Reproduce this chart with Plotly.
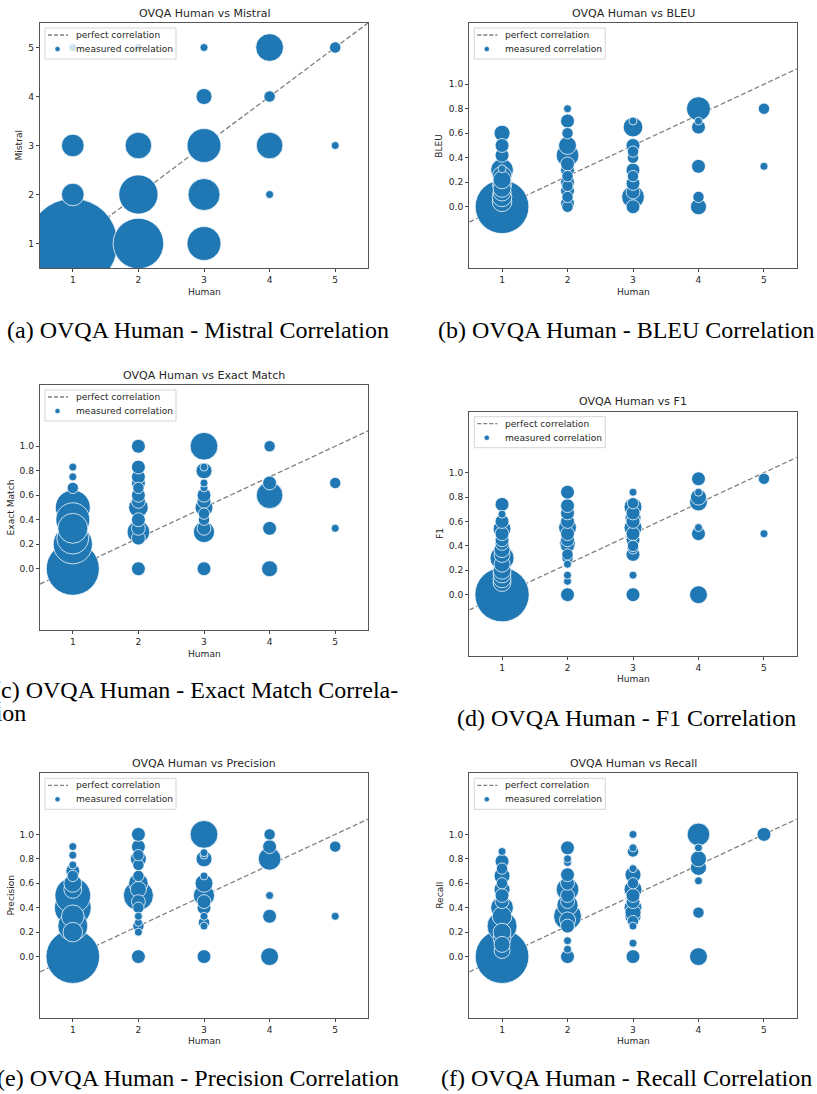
import numpy as np
import plotly.graph_objects as go

FIG_W, FIG_H = 817, 1094

# ---------------------------------------------------------------- data
human_ticks = [1, 2, 3, 4, 5]
mistral_ticks = [1, 2, 3, 4, 5]
metric_ticks = [0.0, 0.2, 0.4, 0.6, 0.8, 1.0]
metric_tick_text = ["0.0", "0.2", "0.4", "0.6", "0.8", "1.0"]

# Human score vs Mistral score, with the number of questions per pair
mistral_human = [1, 1, 1, 1, 2, 2, 2, 2, 3, 3, 3, 3, 3, 4, 4, 4, 4, 5, 5]
mistral_score = [1, 2, 3, 5, 1, 2, 3, 5, 1, 2, 3, 4, 5, 2, 3, 4, 5, 3, 5]
mistral_count = [126, 8, 8, 1, 40, 24, 11, 1, 18, 16, 18, 4, 1, 1, 11, 2, 12, 1, 2]

bleu_human = [1, 1, 1, 1, 1, 1, 1, 1, 1, 1, 1, 1, 1,
              2, 2, 2, 2, 2, 2, 2, 2, 2, 2, 2, 2, 2, 2,
              3, 3, 3, 3, 3, 3, 3, 3, 3, 3, 3,
              4, 4, 4, 4, 4, 4,
              5, 5]
bleu_score = [0.0, 0.04, 0.08, 0.12, 0.15, 0.19, 0.22, 0.25, 0.3, 0.31, 0.42, 0.5, 0.6,
              0.0, 0.03, 0.08, 0.13, 0.17, 0.2, 0.25, 0.3, 0.35, 0.42, 0.5, 0.6, 0.7, 0.8,
              0.0, 0.08, 0.12, 0.19, 0.25, 0.3, 0.4, 0.45, 0.5, 0.65, 0.7,
              0.0, 0.08, 0.33, 0.65, 0.7, 0.8,
              0.33, 0.8]
bleu_count = [45, 6, 6, 5, 5, 6, 5, 6, 8, 1, 3, 3, 4,
              2, 3, 2, 3, 2, 3, 2, 3, 3, 8, 5, 2, 3, 1,
              3, 8, 3, 3, 2, 3, 2, 2, 3, 6, 1,
              4, 2, 3, 3, 1, 9,
              1, 2]

em_human = [1, 1, 1, 1, 1, 1, 1, 1, 1,
            2, 2, 2, 2, 2, 2, 2, 2, 2, 2, 2, 2, 2,
            3, 3, 3, 3, 3, 3, 3, 3, 3, 3, 3, 3, 3,
            4, 4, 4, 4, 4,
            5, 5]
em_score = [0.0, 0.2, 0.25, 0.33, 0.4, 0.5, 0.66, 0.75, 0.83,
            0.0, 0.25, 0.3, 0.33, 0.4, 0.5, 0.55, 0.6, 0.66, 0.7, 0.75, 0.83, 1.0,
            0.0, 0.3, 0.33, 0.4, 0.45, 0.5, 0.55, 0.6, 0.66, 0.7, 0.8, 0.83, 1.0,
            0.0, 0.33, 0.6, 0.7, 1.0,
            0.33, 0.7]
em_count = [44, 24, 16, 14, 18, 19, 2, 1, 1,
            3, 3, 8, 3, 3, 6, 3, 3, 2, 3, 3, 3, 3,
            3, 7, 3, 2, 2, 5, 3, 3, 1, 1, 4, 1, 12,
            4, 3, 11, 3, 2,
            1, 2]

f1_human = [1, 1, 1, 1, 1, 1, 1, 1, 1, 1, 1, 1, 1, 1, 1, 1,
            2, 2, 2, 2, 2, 2, 2, 2, 2, 2, 2, 2, 2, 2, 2,
            3, 3, 3, 3, 3, 3, 3, 3, 3, 3, 3, 3, 3, 3,
            4, 4, 4, 4, 4, 4, 4,
            5, 5]
f1_score = [0.0, 0.1, 0.13, 0.17, 0.2, 0.25, 0.3, 0.33, 0.37, 0.42, 0.45, 0.5, 0.54, 0.6, 0.66, 0.74,
            0.0, 0.11, 0.16, 0.25, 0.3, 0.33, 0.4, 0.42, 0.45, 0.5, 0.55, 0.6, 0.67, 0.73, 0.84,
            0.0, 0.16, 0.33, 0.38, 0.4, 0.45, 0.5, 0.55, 0.6, 0.63, 0.67, 0.72, 0.75, 0.84,
            0.0, 0.5, 0.55, 0.76, 0.8, 0.84, 0.95,
            0.5, 0.95]
f1_count = [46, 5, 5, 5, 5, 4, 9, 4, 4, 3, 3, 3, 5, 3, 1, 3,
            3, 1, 1, 1, 2, 2, 3, 4, 3, 3, 5, 3, 3, 3, 3,
            3, 1, 3, 2, 2, 3, 3, 5, 3, 4, 3, 5, 2, 1,
            5, 3, 1, 5, 4, 1, 3,
            1, 2]

prec_human = [1, 1, 1, 1, 1, 1, 1, 1, 1, 1, 1, 1, 1,
              2, 2, 2, 2, 2, 2, 2, 2, 2, 2, 2, 2, 2, 2, 2, 2,
              3, 3, 3, 3, 3, 3, 3, 3, 3, 3, 3, 3, 3,
              4, 4, 4, 4, 4, 4,
              5, 5]
prec_score = [0.0, 0.2, 0.25, 0.33, 0.4, 0.5, 0.55, 0.6, 0.66, 0.7, 0.75, 0.83, 0.9,
              0.0, 0.2, 0.25, 0.28, 0.33, 0.4, 0.45, 0.5, 0.55, 0.6, 0.66, 0.75, 0.8, 0.83, 0.9, 1.0,
              0.0, 0.25, 0.28, 0.33, 0.4, 0.45, 0.5, 0.6, 0.66, 0.8, 0.83, 0.85, 1.0,
              0.0, 0.33, 0.5, 0.8, 0.9, 1.0,
              0.33, 0.9]
prec_count = [45, 6, 14, 8, 21, 20, 5, 5, 2, 3, 1, 1, 1,
              3, 1, 2, 1, 1, 2, 3, 14, 4, 6, 2, 2, 4, 2, 3, 3,
              3, 1, 2, 1, 3, 3, 7, 5, 1, 4, 1, 1, 12,
              5, 3, 1, 8, 3, 2,
              1, 2]

recall_human = [1, 1, 1, 1, 1, 1, 1, 1, 1, 1, 1, 1, 1, 1, 1, 1,
                2, 2, 2, 2, 2, 2, 2, 2, 2, 2, 2, 2, 2, 2, 2,
                3, 3, 3, 3, 3, 3, 3, 3, 3, 3, 3, 3, 3, 3, 3, 3,
                4, 4, 4, 4, 4, 4, 4,
                5]
recall_score = [0.0, 0.05, 0.1, 0.15, 0.2, 0.25, 0.33, 0.4, 0.45, 0.5, 0.55, 0.6, 0.66, 0.72, 0.78, 0.86,
                0.0, 0.06, 0.13, 0.25, 0.3, 0.33, 0.42, 0.45, 0.5, 0.55, 0.6, 0.67, 0.77, 0.8, 0.89,
                0.0, 0.11, 0.25, 0.29, 0.33, 0.36, 0.4, 0.45, 0.5, 0.55, 0.6, 0.67, 0.72, 0.86, 0.89, 1.0,
                0.0, 0.36, 0.62, 0.73, 0.8, 0.89, 1.0,
                1.0]
recall_count = [45, 4, 4, 5, 5, 14, 6, 8, 3, 3, 4, 2, 4, 2, 3, 1,
                3, 1, 1, 3, 4, 12, 7, 3, 3, 8, 3, 3, 1, 1, 3,
                3, 1, 1, 2, 4, 4, 5, 3, 3, 5, 2, 4, 1, 2, 1, 1,
                5, 2, 1, 4, 4, 1, 8,
                3]

# ---------------------------------------------------------------- styling
BLUE = "#1f77b4"
TEXT = "#262626"
SANS = "DejaVu Sans"
SERIF = "Liberation Serif"
SIZE_K = 8.0          # marker diameter (px) per sqrt(question count)


def same_scale(h):
    return np.asarray(h, dtype=float)


def unit_scale(h):
    # human grade 1..5 mapped onto a 0..1 metric
    return (np.asarray(h, dtype=float) - 1.0) / 4.0


panels = [
    dict(title="OVQA Human vs Mistral", ylabel="Mistral", ylab_off=21,
         h=mistral_human, s=mistral_score, c=mistral_count,
         yrange=[0.5, 5.5], yticks=mistral_ticks, ytext=[str(t) for t in mistral_ticks],
         ideal=same_scale, box=(40, 23, 368, 268),
         caption=[("(a) OVQA Human - Mistral Correlation", 197.5, 330, "center")]),
    dict(title="OVQA Human vs BLEU", ylabel="BLEU", ylab_off=30,
         h=bleu_human, s=bleu_score, c=bleu_count,
         yrange=[-0.5, 1.5], yticks=metric_ticks, ytext=metric_tick_text,
         ideal=unit_scale, box=(469.3, 23, 796.7, 268),
         caption=[("(b) OVQA Human - BLEU Correlation", 626.5, 330, "center")]),
    dict(title="OVQA Human vs Exact Match", ylabel="Exact Match", ylab_off=30,
         h=em_human, s=em_score, c=em_count,
         yrange=[-0.5, 1.5], yticks=metric_ticks, ytext=metric_tick_text,
         ideal=unit_scale, box=(40, 385, 368, 630),
         caption=[("(c) OVQA Human - Exact Match Correla-", -9, 690, "left"),
                  ("tion", -13, 713, "left")]),
    dict(title="OVQA Human vs F1", ylabel="F1", ylab_off=30,
         h=f1_human, s=f1_score, c=f1_count,
         yrange=[-0.5, 1.5], yticks=metric_ticks, ytext=metric_tick_text,
         ideal=unit_scale, box=(469.3, 411.7, 796.7, 655.7),
         caption=[("(d) OVQA Human - F1 Correlation", 626.5, 718, "center")]),
    dict(title="OVQA Human vs Precision", ylabel="Precision", ylab_off=30,
         h=prec_human, s=prec_score, c=prec_count,
         yrange=[-0.5, 1.5], yticks=metric_ticks, ytext=metric_tick_text,
         ideal=unit_scale, box=(40, 773.3, 368, 1017.7),
         caption=[("(e) OVQA Human - Precision Correlation", 197.5, 1078, "center")]),
    dict(title="OVQA Human vs Recall", ylabel="Recall", ylab_off=30,
         h=recall_human, s=recall_score, c=recall_count,
         yrange=[-0.5, 1.5], yticks=metric_ticks, ytext=metric_tick_text,
         ideal=unit_scale, box=(469.3, 773.3, 796.7, 1017.7),
         caption=[("(f) OVQA Human - Recall Correlation", 626.5, 1078, "center")]),
]


def fx(px):
    return px / FIG_W


def fy(py):
    return 1.0 - py / FIG_H


fig = go.Figure()
annotations = []
shapes = []
layout_axes = {}

for i, p in enumerate(panels, start=1):
    sfx = "" if i == 1 else str(i)
    xname, yname = "x" + sfx, "y" + sfx
    L, T, R, B = p["box"]

    axis_common = dict(
        showgrid=False, zeroline=False, showline=True, mirror=True,
        linecolor="#555555", linewidth=1,
        ticks="outside", ticklen=3.2, tickwidth=0.8, tickcolor="#444444",
        tickfont=dict(family=SANS, size=9.1, color=TEXT),
        fixedrange=True,
    )
    layout_axes["xaxis" + sfx] = dict(
        axis_common, domain=[fx(L), fx(R)], anchor=yname,
        range=[0.5, 5.5], tickmode="array", tickvals=human_ticks,
        ticktext=[str(t) for t in human_ticks],
    )
    layout_axes["yaxis" + sfx] = dict(
        axis_common, domain=[fy(B), fy(T)], anchor=xname,
        range=p["yrange"], tickmode="array", tickvals=p["yticks"],
        ticktext=p["ytext"],
    )

    # perfect-correlation reference across the full human axis
    xr = np.array(layout_axes["xaxis" + sfx]["range"], dtype=float)
    fig.add_trace(go.Scatter(
        x=xr, y=p["ideal"](xr), mode="lines", xaxis=xname, yaxis=yname,
        line=dict(color="#808080", width=1.3, dash="5px,2.5px"),
        showlegend=False, hoverinfo="skip",
    ))

    # measured pairs, biggest bubbles first so smaller ones sit on top
    h = np.asarray(p["h"], dtype=float)
    s = np.asarray(p["s"], dtype=float)
    c = np.asarray(p["c"], dtype=float)
    assert len(h) == len(s) == len(c)
    order = np.argsort(-c, kind="stable")
    fig.add_trace(go.Scatter(
        x=h[order], y=s[order], mode="markers", xaxis=xname, yaxis=yname,
        marker=dict(color=BLUE, size=SIZE_K * np.sqrt(c[order]), sizemode="diameter",
                    line=dict(color="white", width=0.75), opacity=1),
        showlegend=False, cliponaxis=True,
    ))

    cx = (L + R) / 2
    # subplot title
    annotations.append(dict(text=p["title"], x=fx(cx), y=fy(T - 10), xref="paper", yref="paper",
                            showarrow=False, xanchor="center", yanchor="middle",
                            font=dict(family=SANS, size=11, color=TEXT)))
    # axis labels
    annotations.append(dict(text="Human", x=fx(cx), y=fy(B + 23.5), xref="paper", yref="paper",
                            showarrow=False, xanchor="center", yanchor="middle",
                            font=dict(family=SANS, size=9.1, color=TEXT)))
    annotations.append(dict(text=p["ylabel"], x=fx(L - p["ylab_off"]), y=fy((T + B) / 2),
                            xref="paper", yref="paper", textangle=-90,
                            showarrow=False, xanchor="center", yanchor="middle",
                            font=dict(family=SANS, size=9.1, color=TEXT)))

    # legend box
    shapes.append(dict(type="rect", xref="paper", yref="paper", layer="above",
                       x0=fx(L + 5), x1=fx(L + 136), y0=fy(T + 36), y1=fy(T + 5),
                       fillcolor="rgba(255,255,255,0.8)",
                       line=dict(color="#cccccc", width=0.8)))
    shapes.append(dict(type="line", xref="paper", yref="paper", layer="above",
                       x0=fx(L + 8), x1=fx(L + 28), y0=fy(T + 12), y1=fy(T + 12),
                       line=dict(color="#808080", width=1.3, dash="4px,2px")))
    shapes.append(dict(type="circle", xref="paper", yref="paper", layer="above",
                       x0=fx(L + 15), x1=fx(L + 20), y0=fy(T + 28.5), y1=fy(T + 23.5),
                       fillcolor=BLUE, line=dict(color="white", width=0.4)))
    for txt, yy in (("perfect correlation", T + 12), ("measured correlation", T + 26)):
        annotations.append(dict(text=txt, x=fx(L + 33.5), y=fy(yy), xref="paper", yref="paper",
                                showarrow=False, xanchor="left", yanchor="middle",
                                font=dict(family=SANS, size=9.1, color=TEXT)))

    # sub-figure caption
    for txt, x, y, anchor in p["caption"]:
        annotations.append(dict(text=txt, x=fx(x), y=fy(y), xref="paper", yref="paper",
                                showarrow=False, xanchor=anchor, yanchor="middle",
                                font=dict(family=SERIF, size=24, color="black")))

fig.update_layout(
    width=FIG_W, height=FIG_H,
    margin=dict(l=0, r=0, t=0, b=0),
    paper_bgcolor="white", plot_bgcolor="white",
    showlegend=False,
    annotations=annotations, shapes=shapes,
    **layout_axes,
)

fig.write_html("out.html")
